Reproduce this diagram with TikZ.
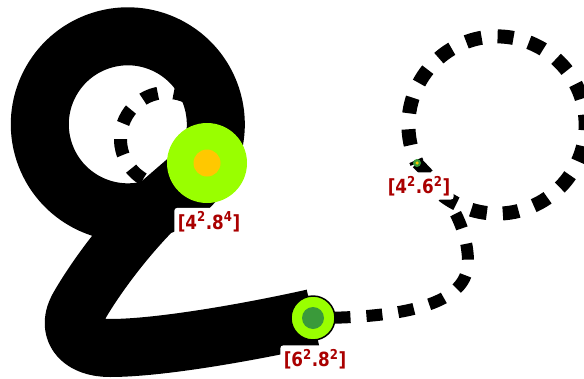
\documentclass[tikz,border=0pt]{standalone}
\usepackage{fontspec}
\setmainfont{DejaVu Sans}[FakeStretch=0.86]
\definecolor{limeg}{HTML}{99FF00}
\definecolor{orng}{HTML}{FFC800}
\definecolor{dgreen}{HTML}{3A9A3A}
\definecolor{lblred}{HTML}{AA0000}
\pgfdeclarelayer{edges}
\pgfsetlayers{edges,main}
\tikzset{
  vtx/.style={circle, inner sep=0pt, fill=limeg},
  core/.style={circle, inner sep=0pt},
  lbl/.style={fill=white, rounded corners=3pt, inner sep=3.5pt, text=lblred,
    font=\bfseries\fontsize{19.5}{21}\selectfont},
  thickedge/.style={line width=58pt, black, line join=round},
  dashedge/.style={line width=13pt, black, dash pattern=on 16pt off 16pt},
}
\begin{document}
\begin{tikzpicture}[x=1pt,y=-1pt]
\useasboundingbox (0,0) rectangle (584,378);
% vertices
\node[vtx, minimum size=80pt] (A) at (207,163) {};
\node[core, fill=orng, minimum size=27pt] (Ac) at (A.center) {};
\node[vtx, draw=black, line width=1.5pt, minimum size=44pt] (B) at (313,318) {};
\node[core, fill=dgreen, minimum size=22pt] (Bc) at (B.center) {};
\node[core, fill=dgreen, minimum size=8pt] (C) at (417,163) {};
\node[core, fill=orng, minimum size=3.5pt] (Cc) at (C.center) {};
% labels
\node[lbl] (lA) at (209,221.5) {[4\textsuperscript{2}.8\textsuperscript{4}]};
\node[lbl] (lB) at (315,359) {[6\textsuperscript{2}.8\textsuperscript{2}]};
\node[lbl] (lC) at (419,186) {[4\textsuperscript{2}.6\textsuperscript{2}]};
% edges
\begin{pgfonlayer}{edges}
\draw[thickedge] (B.center) .. controls (250,332) and (160,348) .. (110,348)
   .. controls (80,348) and (66,330) .. (78,308)
   .. controls (95,278) and (125,238) .. (155,208)
   arc[start angle=72, end angle=-288, radius=88] -- (A.center);
\draw[dashedge, dash phase=23pt] (A.center) arc[start angle=31, end angle=391, radius=46.6];
\draw[dashedge, line width=14pt, dash phase=13pt] (C.center) arc[start angle=154.6, end angle=514.6, radius=88.6];
\draw[dashedge, line width=12pt] (C.center) .. controls (445,190) and (468,225) .. (468,262)
   .. controls (468,295) and (430,318) .. (B.center);
\end{pgfonlayer}
\end{tikzpicture}
\end{document}
